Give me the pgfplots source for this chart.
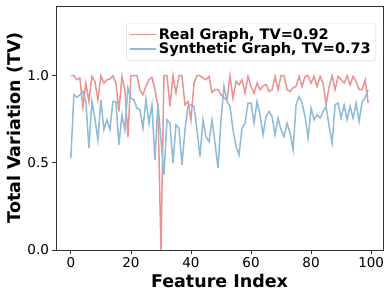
\documentclass[border=0pt]{standalone}
\usepackage{fontspec}
\setmainfont{DejaVu Sans}
\usepackage{pgfplots}
\pgfplotsset{compat=1.18}
\definecolor{realc}{RGB}{234,147,147}
\definecolor{sync}{RGB}{143,187,217}
\begin{document}
\begin{tikzpicture}
\begin{axis}[
  scale only axis, width=327pt, height=244pt,
  at={(0,0)}, anchor=south west,
  xmin=-4.95, xmax=103.95, ymin=0, ymax=1.4,
  xtick={0,20,40,60,80,100}, ytick={0,0.5,1.0},
  yticklabel style={/pgf/number format/fixed, /pgf/number format/fixed zerofill, /pgf/number format/precision=1},
  /pgf/number format/assume math mode=true,
  tick label style={font=\fontsize{13.5}{14}\selectfont},
  tick align=outside, tick pos=left, major tick length=3.5pt,
  every tick/.style={black!80, line width=0.8pt},
  axis line style={black!80, line width=0.8pt},
  xlabel={Feature Index}, ylabel={Total Variation (TV)},
  label style={font=\fontsize{17.5}{18}\selectfont\bfseries},
  xlabel style={at={(axis description cs:0.5,-0.127)}, anchor=center},
  ylabel style={at={(axis description cs:-0.1254,0.5)}, anchor=center},
  legend cell align=left,
  legend style={at={(rel axis cs:0.9786,0.930)}, anchor=north east, draw=black!15, rounded corners=2pt,
    font=\fontsize{14.5}{16}\selectfont\bfseries, row sep=-2pt, inner sep=3pt},
  legend image code/.code={\draw[#1] (0pt,0pt) -- (26pt,0pt);},
]
\addplot[realc, line width=1.5pt] coordinates {
(0,1.0)(1,1.0)(2,0.977)(3,0.987)(4,0.82)(5,0.958)(6,0.852)(7,0.996)(8,0.967)(9,0.862)
(10,1.0)(11,0.958)(12,0.977)(13,0.981)(14,1.0)(15,0.958)(16,0.795)(17,0.996)(18,0.92)(19,0.65)
(20,1.0)(21,1.0)(22,1.0)(23,0.92)(24,0.891)(25,0.939)(26,0.977)(27,0.99)(28,0.92)(29,0.824)
(30,0.0)(31,1.0)(32,1.0)(33,0.824)(34,1.0)(35,0.9)(36,1.0)(37,1.0)(38,0.833)(39,0.852)
(40,0.747)(41,0.958)(42,1.0)(43,1.0)(44,0.987)(45,0.977)(46,0.996)(47,0.904)(48,0.92)(49,0.92)
(50,0.891)(51,0.871)(52,0.862)(53,1.0)(54,0.871)(55,0.967)(56,0.948)(57,0.977)(58,0.9)(59,0.996)
(60,0.939)(61,0.9)(62,0.958)(63,0.92)(64,0.94)(65,0.95)(66,0.91)(67,0.92)(68,0.996)(69,0.92)
(70,1.0)(71,1.0)(72,0.92)(73,0.91)(74,0.93)(75,0.939)(76,0.996)(77,0.939)(78,0.996)(79,1.0)
(80,0.958)(81,0.996)(82,0.939)(83,0.996)(84,0.958)(85,0.833)(86,0.939)(87,1.0)(88,0.92)(89,0.996)
(90,0.977)(91,0.958)(92,1.0)(93,0.948)(94,0.996)(95,0.967)(96,0.92)(97,0.92)(98,0.977)(99,0.843)
};
\addlegendentry{Real Graph, TV=0.92}
\addplot[sync, line width=1.5pt] coordinates {
(0,0.527)(1,0.891)(2,0.877)(3,0.891)(4,0.91)(5,0.852)(6,0.584)(7,0.852)(8,0.757)(9,0.632)
(10,0.862)(11,0.69)(12,0.747)(13,0.69)(14,0.852)(15,0.852)(16,0.603)(17,0.776)(18,0.69)(19,0.93)
(20,0.871)(21,0.862)(22,0.814)(23,0.805)(24,0.699)(25,0.862)(26,0.728)(27,0.833)(28,0.517)(29,0.843)
(30,0.632)(31,0.43)(32,0.747)(33,0.728)(34,0.498)(35,0.718)(36,0.699)(37,0.489)(38,0.69)(39,0.824)
(40,0.833)(41,0.824)(42,0.69)(43,0.536)(44,0.747)(45,0.651)(46,0.622)(47,0.747)(48,0.613)(49,0.47)
(50,0.747)(51,0.939)(52,0.852)(53,0.824)(54,0.69)(55,0.594)(56,0.546)(57,0.699)(58,0.728)(59,0.843)
(60,0.843)(61,0.728)(62,0.852)(63,0.776)(64,0.661)(65,0.766)(66,0.795)(67,0.766)(68,0.661)(69,0.757)
(70,0.69)(71,0.651)(72,0.728)(73,0.67)(74,0.575)(75,0.833)(76,0.881)(77,0.843)(78,0.766)(79,0.642)
(80,0.814)(81,0.747)(82,0.776)(83,0.757)(84,0.795)(85,0.824)(86,0.709)(87,0.613)(88,0.833)(89,0.843)
(90,0.757)(91,0.833)(92,0.747)(93,0.824)(94,0.757)(95,0.843)(96,0.738)(97,0.852)(98,0.871)(99,0.92)
};
\addlegendentry{Synthetic Graph, TV=0.73}
\end{axis}
\pgfresetboundingbox
\useasboundingbox (-56pt,-48pt) rectangle (335pt,250pt);
\end{tikzpicture}
\end{document}
